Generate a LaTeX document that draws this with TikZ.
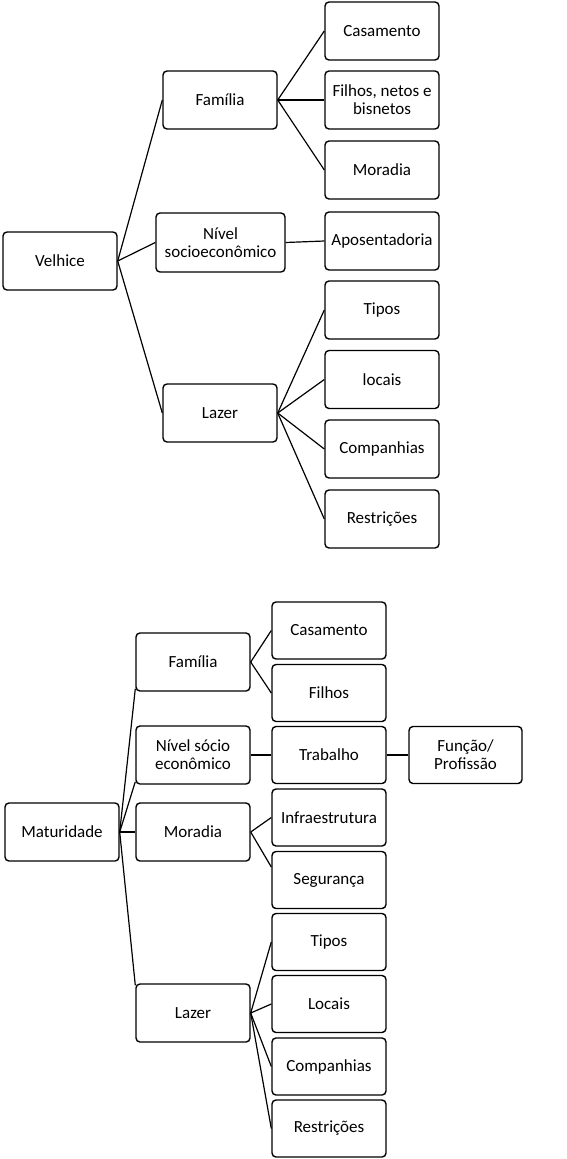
\documentclass[tikz,border=0pt]{standalone}
\usepackage{fontspec}
\setmainfont{Carlito}
\begin{document}
\begin{tikzpicture}[x=1pt,y=1pt,
  box/.style={draw=black, line width=1.4pt, rounded corners=4pt, fill=white,
    minimum width=114pt, minimum height=58pt, inner sep=1pt, align=center,
    font=\fontsize{17pt}{18pt}\selectfont},
  link/.style={draw=black, line width=1.2pt}]
\useasboundingbox (0,0) rectangle (567,-1159);
% ---------- Velhice ----------
\node[box] (V) at (60,-261) {Velhice};
\node[box] (F1) at (220,-100) {Família};
\node[box, minimum width=129pt, minimum height=59pt] (N1) at (220.5,-242.5) {Nível\\socioeconômico};
\node[box] (L1) at (220,-413) {Lazer};
\node[box] (C1) at (382,-31) {Casamento};
\node[box] (FN1) at (382,-100) {Filhos, netos e\\bisnetos};
\node[box] (M1) at (382,-170) {Moradia};
\node[box] (A1) at (382,-241) {Aposentadoria};
\node[box] (T1) at (382,-310) {Tipos};
\node[box] (Lo1) at (382,-379.5) {locais};
\node[box] (Co1) at (382,-449) {Companhias};
\node[box] (R1) at (382,-519) {Restrições};
\draw[link] (V.east) -- (F1.west);
\draw[link] (V.east) -- (N1.west);
\draw[link] (V.east) -- (L1.west);
\draw[link] (F1.east) -- (C1.west);
\draw[link] (F1.east) -- (FN1.west);
\draw[link] (F1.east) -- (M1.west);
\draw[link] (N1.east) -- (A1.west);
\draw[link] (L1.east) -- (T1.west);
\draw[link] (L1.east) -- (Lo1.west);
\draw[link] (L1.east) -- (Co1.west);
\draw[link] (L1.east) -- (R1.west);
% ---------- Maturidade ----------
\node[box] (Mat) at (62,-832) {Maturidade};
\node[box] (F2) at (193,-662) {Família};
\node[box] (N2) at (193,-755) {Nível sócio\\econômico};
\node[box] (Mo2) at (193,-832) {Moradia};
\node[box] (L2) at (193,-1013) {Lazer};
\node[box, minimum height=57pt] (C2) at (329,-630.5) {Casamento};
\node[box, minimum height=57pt] (Fi2) at (329,-693) {Filhos};
\node[box, minimum height=57pt] (Tr2) at (329,-755) {Trabalho};
\node[box, minimum width=113pt, minimum height=57pt] (Fu2) at (465.5,-755) {Função/\\Profissão};
\node[box, minimum height=57pt] (I2) at (329,-817.5) {Infraestrutura};
\node[box, minimum height=57pt] (S2) at (329,-880) {Segurança};
\node[box, minimum height=57pt] (T2) at (329,-942) {Tipos};
\node[box, minimum height=57pt] (Lo2) at (329,-1004) {Locais};
\node[box, minimum height=57pt] (Co2) at (329,-1066.5) {Companhias};
\node[box, minimum height=57pt] (R2) at (329,-1128.5) {Restrições};
\draw[link] (Mat.east) -- ([yshift=3pt]F2.south west);
\draw[link] (Mat.east) -- ([yshift=3pt]N2.south west);
\draw[link] (Mat.east) -- (Mo2.west);
\draw[link] (Mat.east) -- ([yshift=-2pt]L2.north west);
\draw[link] (F2.east) -- (C2.west);
\draw[link] (F2.east) -- (Fi2.west);
\draw[link] (N2.east) -- (Tr2.west);
\draw[link] (Tr2.east) -- (Fu2.west);
\draw[link] (Mo2.east) -- (I2.west);
\draw[link] (Mo2.east) -- ([yshift=13pt]S2.west);
\draw[link] (L2.east) -- (T2.west);
\draw[link] (L2.east) -- (Lo2.west);
\draw[link] (L2.east) -- (Co2.west);
\draw[link] (L2.east) -- (R2.west);
\end{tikzpicture}
\end{document}
